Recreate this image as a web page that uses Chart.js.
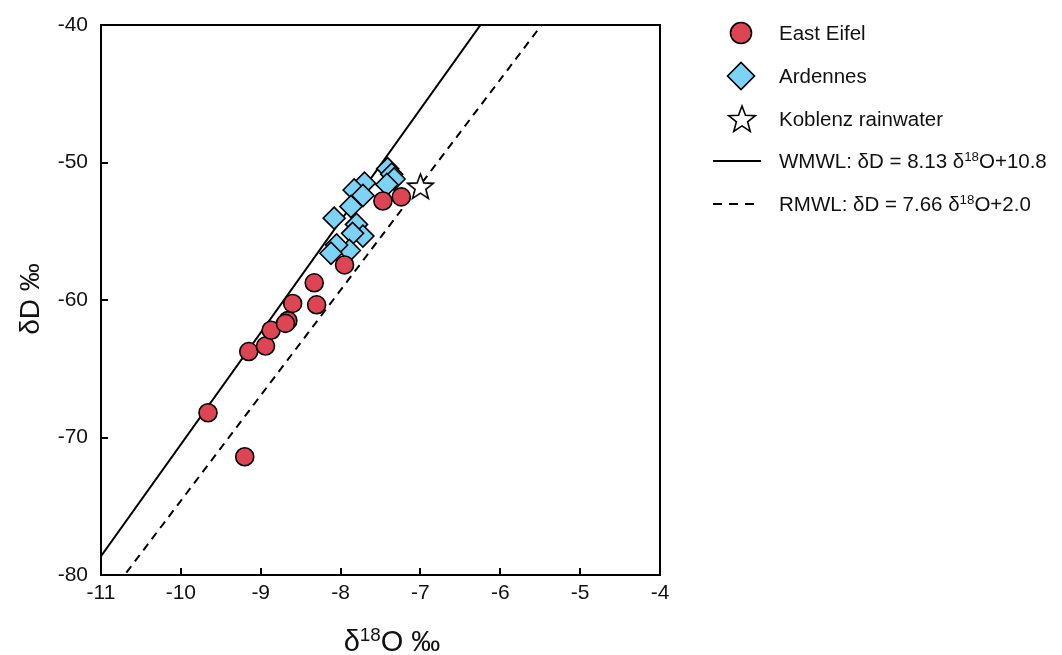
<!doctype html>
<html lang="en">
<head>
<meta charset="utf-8">
<title>δD vs δ18O</title>
<style>
  html, body { margin: 0; padding: 0; background: #fff; }
  #wrap { width: 1062px; height: 655px; }
</style>
</head>
<body>
<div id="wrap"><canvas id="chart"></canvas></div>

<script src="https://cdn.jsdelivr.net/npm/chart.js@4/dist/chart.umd.min.js"></script>
<script>
// axis ticks
const xTicks = [-11, -10, -9, -8, -7, -6, -5, -4];
const yTicks = [-80, -70, -60, -50, -40];

// East Eifel samples
const eifelO = [-9.66, -9.20, -9.15, -8.94, -8.87, -8.66, -8.69, -8.60, -8.33, -8.30, -7.95, -7.47, -7.24];
const eifelD = [-68.2, -71.4, -63.75, -63.35, -62.2, -61.5, -61.7, -60.25, -58.75, -60.35, -57.45, -52.8, -52.5];

// Ardennes samples
const ardO = [-7.41, -7.36, -7.33, -7.42, -7.70, -7.83, -7.72, -7.87, -8.08, -7.80, -7.72, -7.85, -7.89, -8.05, -8.12];
const ardD = [-50.45, -50.85, -51.2, -51.6, -51.5, -52.0, -52.4, -53.2, -54.05, -54.5, -55.35, -55.15, -56.4, -56.0, -56.6];

// Koblenz rainwater
const rainO = [-7.0];
const rainD = [-51.75];

// meteoric water lines: dD = slope * d18O + intercept
const wmwl = { slope: 8.13, intercept: 10.8 };
const rmwl = { slope: 7.66, intercept: 2.0 };
const lineO = [-11, -4];

const FONT = '"Liberation Sans", Arial, sans-serif';
const RED = 'rgb(221, 69, 84)';
const BLUE = 'rgb(125, 211, 245)';

function pts(xs, ys) {
  return xs.map((x, i) => ({ x: x, y: ys[i] }));
}

function mwl(l) {
  return lineO.map(x => ({ x: x, y: l.slope * x + l.intercept }));
}

function starPath(ctx, cx, cy, R, r) {
  ctx.beginPath();
  for (let i = 0; i < 10; i++) {
    let rad = i % 2 ? r : R;
    let a = -Math.PI / 2 + i * Math.PI / 5;
    let px = cx + Math.cos(a) * rad, py = cy + Math.sin(a) * rad;
    if (i === 0) ctx.moveTo(px, py); else ctx.lineTo(px, py);
  }
  ctx.closePath();
}

function makeStar(R) {
  let c = document.createElement('canvas');
  let s = Math.ceil(R * 2 + 4);
  c.width = s; c.height = s;
  let g = c.getContext('2d');
  starPath(g, s / 2, s / 2 + 1, R, R * 0.42);
  g.fillStyle = '#fff';
  g.fill();
  g.lineWidth = 1.6;
  g.strokeStyle = '#000';
  g.lineJoin = 'miter';
  g.stroke();
  return c;
}

const starSmall = makeStar(13.5);
const starLegend = makeStar(14);

// text with superscript runs: parts = [[text, isSup], ...]
function richWidth(ctx, parts, size) {
  let w = 0;
  parts.forEach(([t, sup]) => {
    ctx.font = (sup ? size * 0.65 : size) + 'px ' + FONT;
    w += ctx.measureText(t).width;
  });
  return w;
}

function drawRich(ctx, parts, x, y, size) {
  let cx = x;
  parts.forEach(([t, sup]) => {
    ctx.font = (sup ? size * 0.65 : size) + 'px ' + FONT;
    ctx.fillText(t, cx, sup ? y - size * 0.36 : y);
    cx += ctx.measureText(t).width;
  });
}

const decor = {
  id: 'decor',
  beforeDatasetsDraw(chart) {
    const ctx = chart.ctx, a = chart.chartArea;
    ctx.save();
    ctx.strokeStyle = '#000';
    ctx.lineWidth = 2;
    ctx.beginPath();
    ctx.moveTo(a.left, a.top);
    ctx.lineTo(a.right, a.top);
    ctx.lineTo(a.right, a.bottom);
    ctx.stroke();
    ctx.restore();
  },
  afterDraw(chart) {
    const ctx = chart.ctx;
    ctx.save();
    ctx.fillStyle = '#111';
    ctx.textBaseline = 'alphabetic';
    ctx.textAlign = 'left';

    // x axis title
    const xt = [['δ', false], ['18', true], ['O ‰', false]];
    const xw = richWidth(ctx, xt, 29);
    drawRich(ctx, xt, 392 - xw / 2, 651, 29);

    // y axis title
    ctx.save();
    ctx.translate(39, 299);
    ctx.rotate(-Math.PI / 2);
    const yt = [['δD ‰', false]];
    const yw = richWidth(ctx, yt, 28);
    drawRich(ctx, yt, -yw / 2, 0, 28);
    ctx.restore();

    // legend
    const lx = 741, tx = 779, fs = 20.5;
    const rows = [33, 76, 119, 161, 204];
    ctx.lineWidth = 1.6;
    ctx.strokeStyle = '#000';

    ctx.beginPath();
    ctx.arc(lx, rows[0], 10.5, 0, Math.PI * 2);
    ctx.fillStyle = RED;
    ctx.fill();
    ctx.stroke();

    ctx.beginPath();
    ctx.moveTo(lx - 13.5, rows[1]);
    ctx.lineTo(lx, rows[1] - 13.5);
    ctx.lineTo(lx + 13.5, rows[1]);
    ctx.lineTo(lx, rows[1] + 13.5);
    ctx.closePath();
    ctx.fillStyle = BLUE;
    ctx.fill();
    ctx.stroke();

    ctx.drawImage(starLegend, lx + 1 - starLegend.width / 2, rows[2] - starLegend.height / 2);

    ctx.lineWidth = 2;
    ctx.beginPath();
    ctx.moveTo(713, rows[3]);
    ctx.lineTo(761, rows[3]);
    ctx.stroke();

    ctx.setLineDash([9, 7]);
    ctx.beginPath();
    ctx.moveTo(713, rows[4]);
    ctx.lineTo(761, rows[4]);
    ctx.stroke();
    ctx.setLineDash([]);

    ctx.fillStyle = '#111';
    const labels = [
      [['East Eifel', false]],
      [['Ardennes', false]],
      [['Koblenz rainwater', false]],
      [['WMWL: δD = ' + wmwl.slope.toFixed(2) + ' δ', false], ['18', true], ['O+' + wmwl.intercept.toFixed(1), false]],
      [['RMWL: δD = ' + rmwl.slope.toFixed(2) + ' δ', false], ['18', true], ['O+' + rmwl.intercept.toFixed(1), false]]
    ];
    labels.forEach((p, i) => drawRich(ctx, p, tx, rows[i] + fs * 0.36, fs));

    ctx.restore();
  }
};

const tickFont = { family: FONT, size: 21 };

new Chart(document.getElementById('chart'), {
  type: 'scatter',
  data: {
    datasets: [
      {
        label: 'East Eifel',
        data: pts(eifelO, eifelD),
        pointStyle: 'circle',
        pointRadius: 9,
        pointHoverRadius: 9,
        backgroundColor: RED,
        borderColor: '#000',
        borderWidth: 1.6,
        order: 0
      },
      {
        label: 'Ardennes',
        data: pts(ardO, ardD),
        pointStyle: 'rectRot',
        pointRadius: 11,
        pointHoverRadius: 11,
        backgroundColor: BLUE,
        borderColor: '#000',
        borderWidth: 1.6,
        order: 1
      },
      {
        label: 'Koblenz rainwater',
        data: pts(rainO, rainD),
        pointStyle: starSmall,
        order: 0
      },
      {
        label: 'WMWL',
        data: mwl(wmwl),
        showLine: true,
        pointRadius: 0,
        borderColor: '#000',
        borderWidth: 2,
        order: 3
      },
      {
        label: 'RMWL',
        data: mwl(rmwl),
        showLine: true,
        pointRadius: 0,
        borderColor: '#000',
        borderWidth: 2,
        borderDash: [8, 6],
        order: 3
      }
    ]
  },
  options: {
    responsive: true,
    maintainAspectRatio: false,
    animation: false,
    devicePixelRatio: 1,
    layout: { padding: { left: 0, top: 25, right: 402, bottom: 0 } },
    plugins: {
      legend: { display: false },
      tooltip: { enabled: false }
    },
    scales: {
      x: {
        type: 'linear',
        min: -11,
        max: -4,
        afterBuildTicks: s => { s.ticks = xTicks.map(v => ({ value: v })); },
        afterFit: s => { s.height = 80; s.paddingLeft = 0; s.paddingRight = 0; },
        grid: { drawOnChartArea: false, tickLength: -7, color: '#000', lineWidth: 2 },
        border: { color: '#000', width: 2 },
        ticks: { font: tickFont, color: '#111', padding: 13, callback: v => String(v) }
      },
      y: {
        type: 'linear',
        min: -80,
        max: -40,
        afterBuildTicks: s => { s.ticks = yTicks.map(v => ({ value: v })); },
        afterFit: s => { s.width = 101; s.paddingTop = 0; s.paddingBottom = 0; },
        grid: { drawOnChartArea: false, tickLength: -7, color: '#000', lineWidth: 2 },
        border: { color: '#000', width: 2 },
        ticks: { font: tickFont, color: '#111', padding: 20, callback: v => String(v) }
      }
    }
  },
  plugins: [decor]
});
</script>
</body>
</html>
